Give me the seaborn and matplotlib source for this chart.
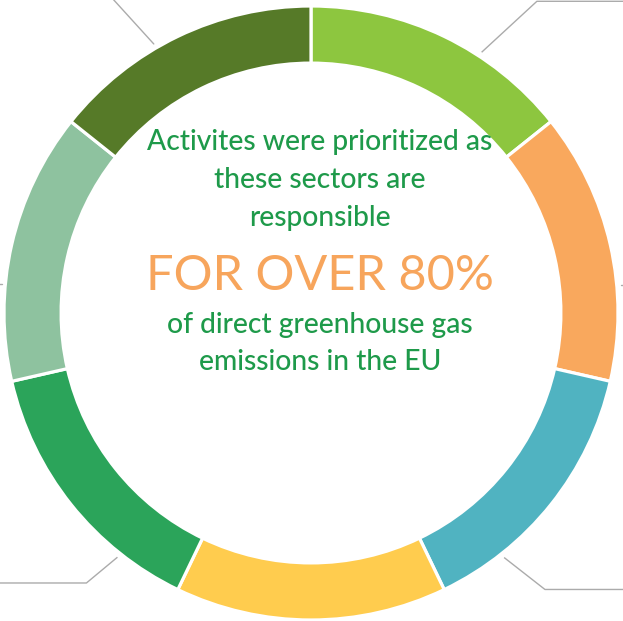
import numpy as np
import seaborn as sns
import matplotlib.pyplot as plt

# seven sectors, equal share of the ring, clockwise from 12 o'clock
sectors = ["Sector 1", "Sector 2", "Sector 3", "Sector 4", "Sector 5", "Sector 6", "Sector 7"]
shares = [1, 1, 1, 1, 1, 1, 1]
colors = ["#8DC63F", "#F9A85D", "#50B3C1", "#FFCC4E", "#2BA45A", "#8EC29F", "#567A28"]

center_lines = ["Activites were prioritized as", "these sectors are", "responsible"]
headline = "FOR OVER 80%"
bottom_lines = ["of direct greenhouse gas", "emissions in the EU"]

sns.set_theme(style="white")
plt.rcParams["font.family"] = ["Lato", "DejaVu Sans"]

fig = plt.figure(figsize=(6.23, 6.21), dpi=100)
ax = fig.add_axes([0, 0, 1, 1])

ax.pie(
    shares,
    colors=sns.color_palette(colors),
    startangle=90,
    counterclock=False,
    radius=1.0,
    wedgeprops=dict(width=0.186, edgecolor="white", linewidth=2.3),
)

# leader lines (cropped label connectors)
grey = "#ABABAB"
leaders = [
    # (start angle deg, elbow dx, elbow dy, end x)
    (56.8, 0.18, 0.166, 1.1),
    (-51.7, 0.133, -0.104, 1.1),
    (-128.4, -0.101, -0.084, -1.1),
]
r0 = 1.015
for ang, dx, dy, xend in leaders:
    sx, sy = r0 * np.cos(np.radians(ang)), r0 * np.sin(np.radians(ang))
    ex, ey = sx + dx, sy + dy
    ax.plot([sx, ex, xend], [sy, ey, ey], color=grey, lw=1.0, solid_capstyle="butt")
# top-left connector runs off the top edge
sx, sy = r0 * np.cos(np.radians(120.3)), r0 * np.sin(np.radians(120.3))
ax.plot([sx, sx - 0.2], [sy, sy + 0.22], color=grey, lw=1.0)
ax.plot([-1.05, -1.005], [0.094, 0.094], color=grey, lw=1.0)
ax.plot([1.01, 1.05], [0.091, 0.091], color=grey, lw=1.0)

green_txt = "#1E9A4A"
orange_txt = "#F7A55C"
px = 1 / 307.0
tx = 0.029
ys = [(313 - 150) * px, (313 - 188) * px, (313 - 226) * px]
for s, y in zip(center_lines, ys):
    ax.text(tx, y, s, ha="center", va="baseline", fontsize=20.3,
            fontweight="medium", color=green_txt)
ax.text(tx, (313 - 290) * px, headline, ha="center", va="baseline",
        fontsize=35, color=orange_txt)
for s, y in zip(bottom_lines, [(313 - 333) * px, (313 - 370) * px]):
    ax.text(tx, y, s, ha="center", va="baseline", fontsize=20.3,
            fontweight="medium", color=green_txt)

ax.set_xlim(-311 * px, (623 - 311) * px)
ax.set_ylim(-(621 - 313) * px, 313 * px)
ax.set_aspect("auto")
ax.axis("off")

fig.savefig("out.png", dpi=100)
